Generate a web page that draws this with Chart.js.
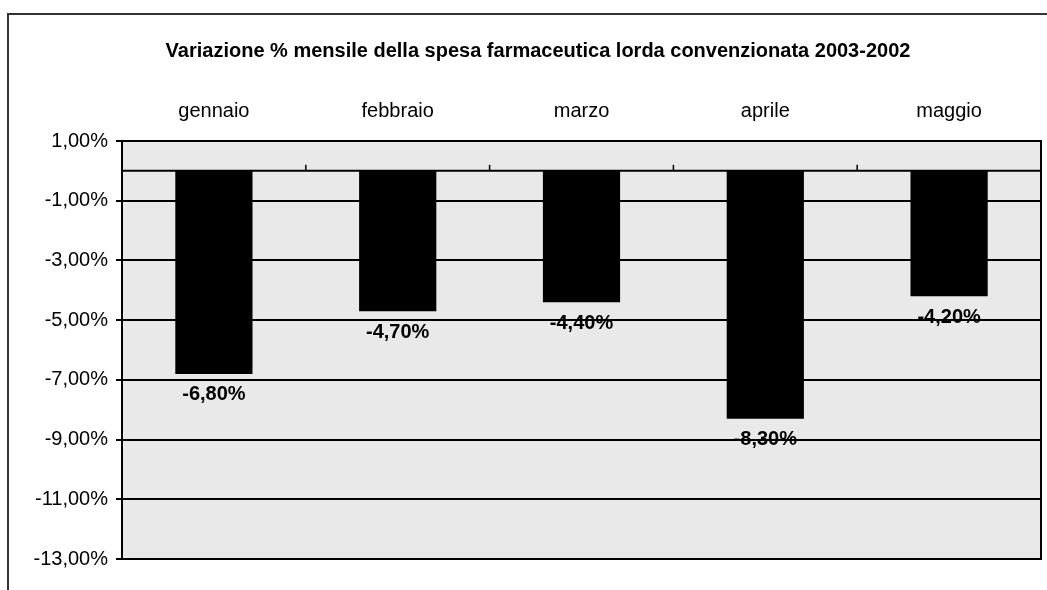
<!DOCTYPE html>
<html>
<head>
<meta charset="utf-8">
<script src="https://cdn.jsdelivr.net/npm/chart.js@4.4.1/dist/chart.umd.min.js"></script>
<style>
html,body{margin:0;padding:0;background:#fff;}
#wrap{position:relative;width:1047px;height:590px;}
</style>
</head>
<body>
<div id="wrap"><canvas id="c" width="1047" height="590"></canvas></div>
<script>
const titleText = 'Variazione % mensile della spesa farmaceutica lorda convenzionata 2003-2002';
const categories = ['gennaio', 'febbraio', 'marzo', 'aprile', 'maggio'];
const values = [-6.8, -4.7, -4.4, -8.3, -4.2];
const yMin = -13, yMax = 1, yStep = 2;

const fmt = v => v.toFixed(2).replace('.', ',') + '%';

const decor = {
  id: 'decor',
  beforeDraw(chart) {
    const {ctx, chartArea: a} = chart;
    ctx.save();
    ctx.fillStyle = '#fff';
    ctx.fillRect(0, 0, chart.width, chart.height);
    // outer frame
    ctx.strokeStyle = '#333';
    ctx.lineWidth = 2;
    ctx.beginPath();
    ctx.moveTo(8, chart.height + 5);
    ctx.lineTo(8, 14);
    ctx.lineTo(chart.width + 5, 14);
    ctx.stroke();
    // plot background
    ctx.fillStyle = '#e9e9e9';
    ctx.fillRect(a.left, a.top, a.right - a.left, a.bottom - a.top);
    // title
    ctx.fillStyle = '#000';
    ctx.font = 'bold 20px "Liberation Sans", Arial, sans-serif';
    ctx.textAlign = 'center';
    ctx.textBaseline = 'middle';
    ctx.fillText(titleText, 538, 51);
    ctx.restore();
  },
  afterDatasetsDraw(chart) {
    const {ctx, chartArea: a, scales: {x, y}} = chart;
    ctx.save();
    // category axis line at zero
    const y0 = y.getPixelForValue(0);
    ctx.strokeStyle = '#000';
    ctx.lineWidth = 2;
    ctx.beginPath();
    ctx.moveTo(a.left, y0);
    ctx.lineTo(a.right, y0);
    ctx.stroke();
    // tick marks between categories
    ctx.lineWidth = 1.5;
    for (let i = 1; i < categories.length; i++) {
      const xp = (x.getPixelForValue(i - 1) + x.getPixelForValue(i)) / 2;
      ctx.beginPath();
      ctx.moveTo(xp, y0);
      ctx.lineTo(xp, y0 - 6);
      ctx.stroke();
    }
    // plot border
    ctx.lineWidth = 2;
    ctx.strokeRect(a.left, a.top, a.right - a.left, a.bottom - a.top);
    // data labels
    ctx.fillStyle = '#000';
    ctx.font = 'bold 20px "Liberation Sans", Arial, sans-serif';
    ctx.textAlign = 'center';
    ctx.textBaseline = 'middle';
    const meta = chart.getDatasetMeta(0);
    meta.data.forEach((bar, i) => {
      ctx.fillText(fmt(values[i]), bar.x, bar.y + 21);
    });
    ctx.restore();
  }
};

new Chart(document.getElementById('c'), {
  type: 'bar',
  data: {
    labels: categories,
    datasets: [{
      data: values,
      backgroundColor: '#000',
      borderWidth: 0,
      barPercentage: 0.42,
      categoryPercentage: 1.0
    }]
  },
  options: {
    responsive: false,
    animation: false,
    devicePixelRatio: 1,
    layout: {padding: {left: 0, right: 6, top: 0, bottom: 31}},
    plugins: {legend: {display: false}, tooltip: {enabled: false}, title: {display: false}},
    scales: {
      x: {
        position: 'top',
        grid: {display: false, drawTicks: false},
        border: {display: false},
        ticks: {
          color: '#000',
          font: {family: '"Liberation Sans", Arial, sans-serif', size: 20},
          padding: 18,
          maxRotation: 0
        },
        afterFit(s) { s.height = 141; }
      },
      y: {
        min: yMin,
        max: yMax,
        grid: {color: '#000', lineWidth: 2, tickLength: 6, drawOnChartArea: true},
        border: {display: true, color: '#000', width: 2},
        ticks: {
          stepSize: yStep,
          color: '#000',
          padding: 8,
          font: {family: '"Liberation Sans", Arial, sans-serif', size: 20},
          callback: v => fmt(v)
        },
        afterFit(s) { s.width = 122; }
      }
    }
  },
  plugins: [decor]
});
</script>
</body>
</html>
